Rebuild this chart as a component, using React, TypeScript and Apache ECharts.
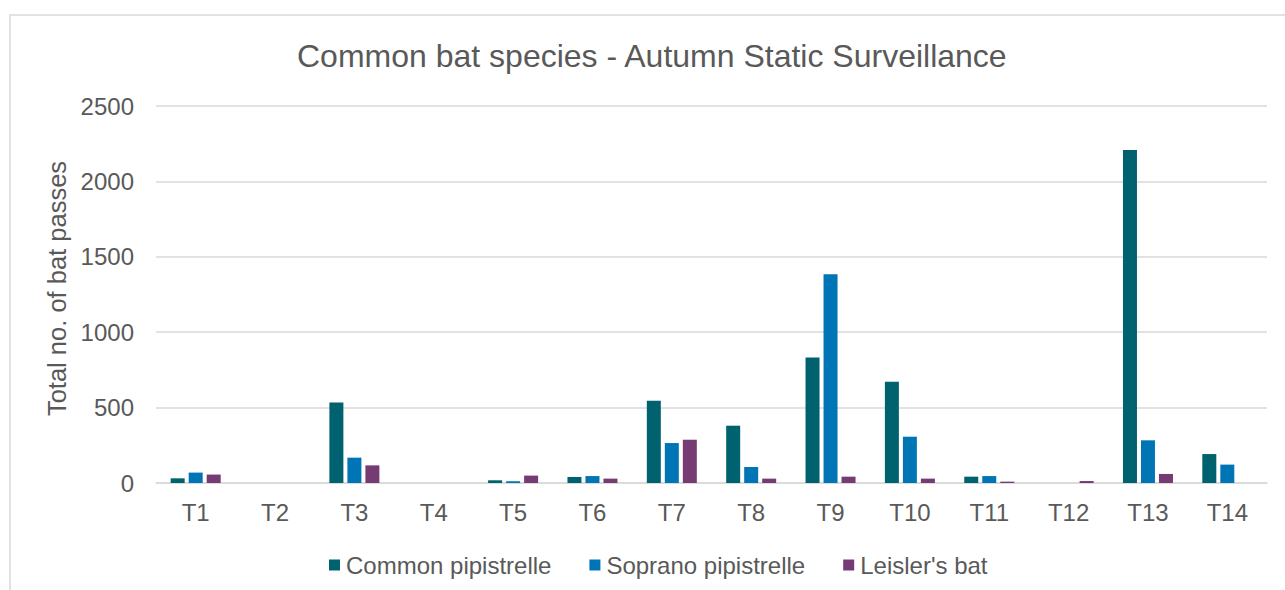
import React, { useEffect, useRef } from "react";
import * as echarts from "echarts";

const categories = ["T1", "T2", "T3", "T4", "T5", "T6", "T7", "T8", "T9", "T10", "T11", "T12", "T13", "T14"];
const commonPipistrelle = [31, 0, 533, 0, 18, 40, 546, 380, 832, 672, 42, 0, 2208, 192];
const sopranoPipistrelle = [69, 0, 168, 0, 11, 46, 265, 106, 1385, 307, 46, 0, 283, 122];
const leislersBat = [56, 0, 117, 0, 49, 29, 287, 29, 42, 29, 9, 13, 60, 0];
const seriesNames = ["Common pipistrelle", "Soprano pipistrelle", "Leisler's bat"];
const colors = ["#00616F", "#0075B6", "#763B73"];

const FONT = "'Liberation Sans', Arial, sans-serif";
const TEXT = "#595959";

export default function App() {
  const ref = useRef<HTMLDivElement>(null);
  useEffect(() => {
    if (!ref.current) return;
    const chart = echarts.init(ref.current, undefined, { renderer: "svg" });
    const data = [commonPipistrelle, sopranoPipistrelle, leislersBat];
    chart.setOption({
      animation: false,
      backgroundColor: "#ffffff",
      textStyle: { fontFamily: FONT },
      title: {
        text: "Common bat species - Autumn Static Surveillance",
        left: 297,
        top: 40,
        padding: 0,
        textStyle: { fontFamily: FONT, fontSize: 32, fontWeight: "normal", color: TEXT },
      },
      graphic: [
        {
          type: "rect",
          shape: { x: 10, y: 15, width: 1300, height: 600 },
          style: { fill: "none", stroke: "#d9d9d9", lineWidth: 1.5 },
          silent: true,
        },
      ],
      legend: {
        left: 324,
        top: 548,
        itemWidth: 11,
        itemHeight: 11,
        itemGap: 38,
        icon: "rect",
        textStyle: { fontFamily: FONT, fontSize: 24, color: TEXT, padding: [0, 0, 0, 1] },
        data: seriesNames,
      },
      grid: { left: 156, right: 18, top: 106, bottom: 107 },
      xAxis: {
        type: "category",
        data: categories,
        axisLine: { show: true, lineStyle: { color: "#d9d9d9", width: 1.5 } },
        axisTick: { show: false },
        axisLabel: { fontFamily: FONT, fontSize: 24, color: TEXT, margin: 17 },
      },
      yAxis: {
        type: "value",
        min: 0,
        max: 2500,
        interval: 500,
        name: "Total no. of bat passes",
        nameLocation: "middle",
        nameGap: 79,
        nameTextStyle: { fontFamily: FONT, fontSize: 25.5, color: TEXT, padding: [0, 0, 0, 12] },
        axisLine: { show: false },
        axisTick: { show: false },
        axisLabel: {
          fontFamily: FONT,
          fontSize: 24,
          color: TEXT,
          margin: 22,
          formatter: (v: number) => String(v),
        },
        splitLine: { lineStyle: { color: "#d9d9d9", width: 1.5 } },
      },
      series: seriesNames.map((name, i) => ({
        name,
        type: "bar",
        data: data[i],
        barWidth: 14,
        barGap: "28.6%",
        itemStyle: { color: colors[i] },
      })),
    });
    return () => chart.dispose();
  }, []);
  return (
    <div
      ref={ref}
      style={{ position: "absolute", left: 0, top: 0, width: 1285, height: 590 }}
    />
  );
}
